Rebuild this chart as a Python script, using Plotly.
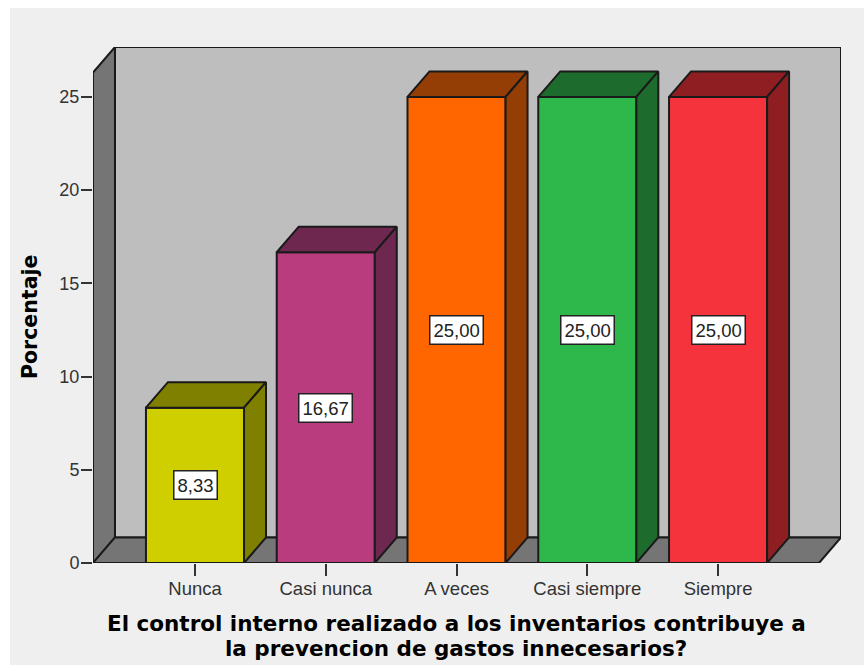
import plotly.graph_objects as go

categories = ["Nunca", "Casi nunca", "A veces", "Casi siempre", "Siempre"]
percentages = [8.33, 16.67, 25.00, 25.00, 25.00]
front_colors = ["#cfcf00", "#b93d7e", "#ff6600", "#2eb84c", "#f5333d"]
shade_colors = ["#7f7f00", "#6e274f", "#943d05", "#1e6b2e", "#8f1e22"]
y_ticks = [0, 5, 10, 15, 20, 25]
x_title_lines = ["El control interno realizado a los inventarios contribuye a",
                 "la prevencion de gastos innecesarios?"]
y_title = "Porcentaje"

WIDTH, HEIGHT = 864, 665
LEFT, RIGHT, TOP, BOTTOM = 93, 841, 47, 563

X_MIN, X_MAX = -0.78, 4.94
Y_MAX = 27.68
BAR_W = 0.75
DEPTH_X = 0.168   # oblique projection offset, category units
DEPTH_Y = 1.37    # oblique projection offset, percent units
EDGE = "#1a1a1a"


def polygon_path(points):
    return "M " + " L ".join(f"{x},{y}" for x, y in points) + " Z"


def paper_x(px):
    return (px - LEFT) / (RIGHT - LEFT)


def paper_y(px):
    return (BOTTOM - px) / (BOTTOM - TOP)


fig = go.Figure()

fig.add_trace(go.Bar(
    x=list(range(len(categories))),
    y=percentages,
    width=BAR_W,
    marker=dict(color=front_colors, line=dict(color=EDGE, width=2)),
    hoverinfo="skip",
))

# Top and right faces of each column, projected from its value
for i, value in enumerate(percentages):
    xl, xr = i - BAR_W / 2, i + BAR_W / 2
    top_face = [(xl, value), (xl + DEPTH_X, value + DEPTH_Y),
                (xr + DEPTH_X, value + DEPTH_Y), (xr, value), (xl, value)]
    side_face = [(xr, value), (xr + DEPTH_X, value + DEPTH_Y),
                 (xr + DEPTH_X, DEPTH_Y), (xr, 0), (xr, value)]
    for face in (top_face, side_face):
        fig.add_trace(go.Scatter(
            x=[p[0] for p in face],
            y=[p[1] for p in face],
            mode="lines",
            fill="toself",
            fillcolor=shade_colors[i],
            line=dict(color=EDGE, width=2),
            hoverinfo="skip",
            cliponaxis=False,
        ))

# Chart box: back wall, side wall and floor
wall_x = X_MIN + DEPTH_X
floor_x = X_MAX - DEPTH_X
box_faces = [
    ("#bebebe", [(wall_x, DEPTH_Y), (X_MAX, DEPTH_Y), (X_MAX, Y_MAX), (wall_x, Y_MAX)]),
    ("#757575", [(X_MIN, 0), (wall_x, DEPTH_Y), (wall_x, Y_MAX), (X_MIN, Y_MAX - DEPTH_Y)]),
    ("#757575", [(X_MIN, 0), (floor_x, 0), (X_MAX, DEPTH_Y), (wall_x, DEPTH_Y)]),
]
shapes = [dict(
    type="rect", xref="paper", yref="paper", layer="below",
    x0=paper_x(10), x1=paper_x(WIDTH), y0=paper_y(HEIGHT), y1=paper_y(8),
    fillcolor="#efefef", line_width=0,
)]
for color, points in box_faces:
    shapes.append(dict(
        type="path", xref="x", yref="y", layer="below",
        path=polygon_path(points), fillcolor=color,
        line=dict(color=EDGE, width=2),
    ))

# Value labels in white boxes at mid-height of each column
annotations = [dict(
    x=i, y=value / 2, xref="x", yref="y", showarrow=False,
    text=f"{value:.2f}".replace(".", ","),
    font=dict(family="Liberation Sans", size=18.5, color="#222222"),
    bgcolor="white", bordercolor="#222222", borderwidth=1.5, borderpad=3,
) for i, value in enumerate(percentages)]

# Axis titles, placed by hand so the line spacing stays tight
for line, y_px in zip(x_title_lines, (623, 648)):
    annotations.append(dict(
        x=paper_x(456), y=paper_y(y_px), xref="paper", yref="paper",
        xanchor="center", yanchor="middle", showarrow=False, text=line,
        font=dict(family="DejaVu Sans", size=21.5, color="black", weight="bold"),
    ))
annotations.append(dict(
    x=paper_x(30), y=paper_y(317), xref="paper", yref="paper",
    xanchor="center", yanchor="middle", showarrow=False, text=y_title, textangle=-90,
    font=dict(family="DejaVu Sans", size=20.5, color="black", weight="bold"),
))

fig.update_layout(
    width=WIDTH, height=HEIGHT, autosize=False,
    margin=dict(l=LEFT, r=WIDTH - RIGHT, t=TOP, b=HEIGHT - BOTTOM, pad=0),
    paper_bgcolor="white",
    plot_bgcolor="rgba(0,0,0,0)",
    showlegend=False,
    shapes=shapes,
    annotations=annotations,
    xaxis=dict(
        range=[X_MIN, X_MAX], showgrid=False, zeroline=False, showline=False,
        tickmode="array", tickvals=list(range(len(categories))), ticktext=categories,
        ticks="outside", ticklen=12, tickwidth=2, tickcolor="#333333",
        ticklabelstandoff=-3,
        tickfont=dict(family="Liberation Sans", size=18.5, color="#333333"),
    ),
    yaxis=dict(
        range=[0, Y_MAX], showgrid=False, zeroline=False, showline=False,
        tickmode="array", tickvals=y_ticks,
        ticks="outside", ticklen=11, tickwidth=2, tickcolor="#333333",
        ticklabelstandoff=-2,
        tickfont=dict(family="Liberation Sans", size=18, color="#333333"),
    ),
)

fig.write_html("out.html", config=dict(displayModeBar=False))
